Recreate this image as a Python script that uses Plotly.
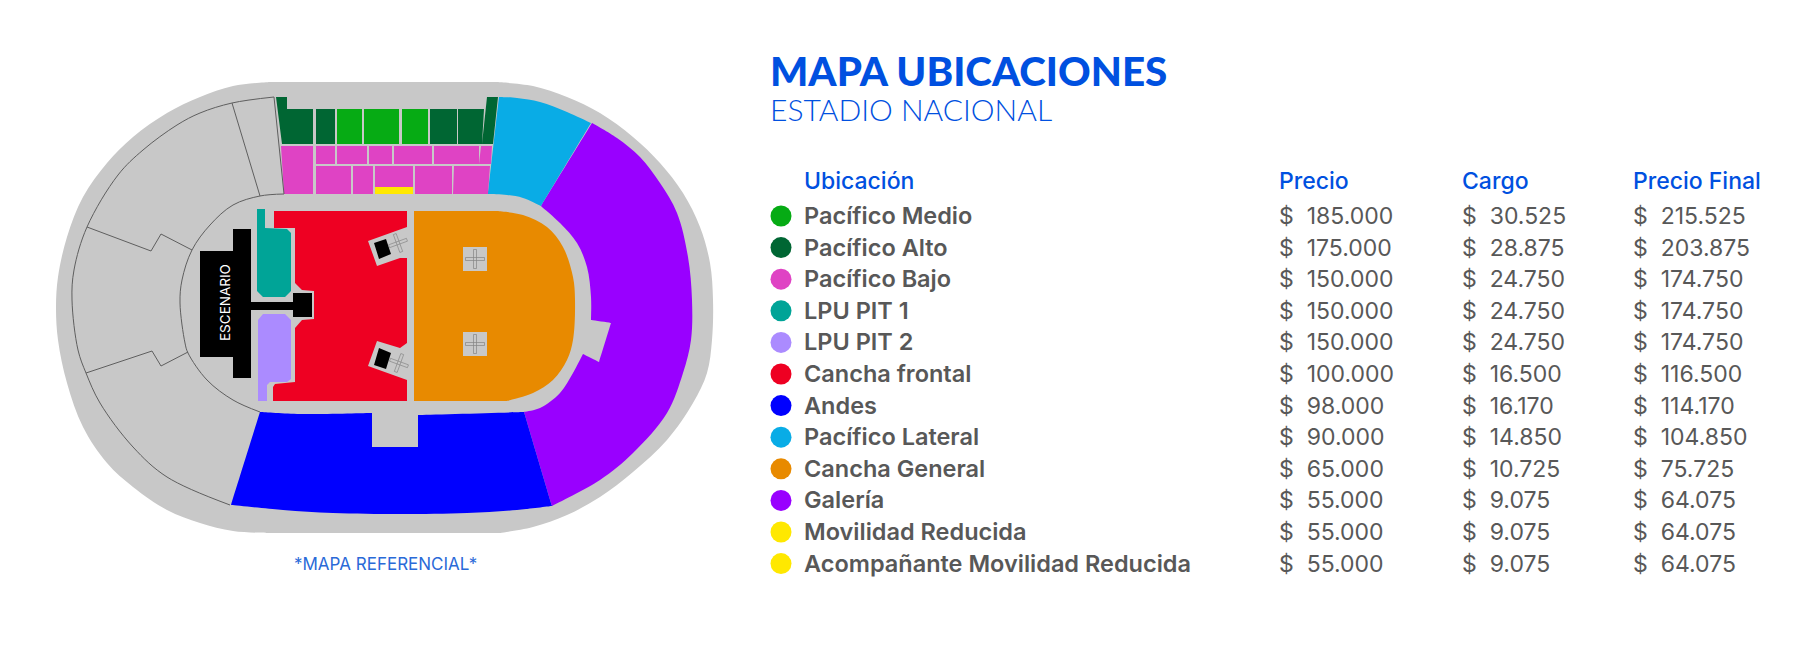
import math

import plotly.graph_objects as go

# table contents
ubicaciones = ["Pacífico Medio", "Pacífico Alto", "Pacífico Bajo", "LPU PIT 1", "LPU PIT 2", "Cancha frontal",
               "Andes", "Pacífico Lateral", "Cancha General", "Galería", "Movilidad Reducida",
               "Acompañante Movilidad Reducida"]
precio = [185000, 175000, 150000, 150000, 150000, 100000, 98000, 90000, 65000, 55000, 55000, 55000]
cargo = [30525, 28875, 24750, 24750, 24750, 16500, 16170, 14850, 10725, 9075, 9075, 9075]
precio_final = [215525, 203875, 174750, 174750, 174750, 116500, 114170, 104850, 75725, 64075, 64075, 64075]
colores = ["#06ab14", "#006633", "#df43c4", "#00a497", "#ab8bff", "#ee0022",
           "#0000ff", "#09ace6", "#e88a00", "#9900ff", "#ffe800", "#ffe800"]
encabezados = ["Ubicación", "Precio", "Cargo", "Precio Final"]

GRIS = "#c8c8c8"
AZUL = "#0050e0"
TEXTO = "#585858"

# map outlines in image pixels
contorno = [(270, 82), (233, 86), (200, 97), (167, 113), (133, 137), (107, 163), (83, 197), (67, 237), (58, 277),
            (56, 307), (58, 340), (67, 383), (83, 427), (107, 463), (133, 487), (167, 510), (200, 523), (233, 531),
            (267, 533), (500, 533), (533, 527), (567, 515), (600, 497), (633, 472), (667, 440), (693, 403),
            (707, 373), (712, 340), (713, 300), (710, 263), (700, 227), (683, 193), (660, 163), (633, 137),
            (600, 113), (567, 97), (533, 86), (497, 82)]
contorno_esq = [(270, 82), (267, 533), (500, 533), (497, 82)]
galeria = [(592, 123), (617, 138), (640, 157), (660, 183), (677, 213), (688, 257), (692, 300), (691, 340), (683, 373),
           (667, 413), (633, 453), (600, 480), (552, 506), (524, 412), (540, 408), (560, 393), (573, 373), (583, 354),
           (599, 362), (611, 323), (591, 320), (591, 297), (587, 267), (577, 243), (560, 223), (541, 206)]
galeria_esq = [(592, 123), (552, 506), (524, 412), (583, 354), (599, 362), (611, 323), (591, 320), (541, 206)]
lateral = [(499, 97), (517, 98), (540, 102), (567, 112), (591, 123), (541, 206), (523, 198), (507, 195), (488, 194)]
lateral_esq = [(499, 97), (591, 123), (541, 206), (488, 194)]
andes = [(260, 412), (300, 414), (372, 413), (372, 447), (418, 447), (418, 415), (524, 412), (552, 506), (517, 510),
         (467, 513), (400, 514), (333, 513), (283, 510), (231, 505)]
andes_esq = [(260, 412), (372, 413), (372, 447), (418, 447), (418, 415), (524, 412), (552, 506), (231, 505)]
general = [(414, 211), (497, 211), (523, 215), (547, 227), (563, 247), (573, 277), (575, 300), (573, 340), (567, 360),
           (553, 380), (533, 393), (507, 401), (414, 401)]
general_esq = [(414, 211), (497, 211), (507, 401), (414, 401)]
frontal = [(274, 211), (407, 211), (407, 401), (273, 401), (273, 387), (275, 384), (295, 382), (295, 328), (302, 320),
           (314, 319), (314, 291), (302, 290), (295, 283), (295, 228), (274, 228)]
pit_1 = [(257, 209), (265, 209), (265, 228), (287, 229), (291, 233), (291, 291), (285, 297), (263, 297), (257, 291)]
pit_2 = [(263, 314), (285, 314), (291, 320), (291, 379), (287, 382), (270, 382), (267, 385), (267, 401), (258, 401),
         (258, 320)]
escenario = [(233, 229), (251, 229), (251, 302), (293, 302), (293, 293), (312, 293), (312, 317), (293, 317), (293, 310),
             (251, 310), (251, 378), (233, 378), (233, 357), (200, 357), (200, 251), (233, 251)]
torre_1 = [(368, 241), (407, 227), (413, 227), (413, 258), (400, 258), (377, 266)]
torre_2 = [(377, 341), (400, 348), (407, 343), (413, 343), (413, 382), (407, 380), (368, 366)]
consola_1 = [(374, 243), (386, 239), (391, 254), (379, 259)]
consola_2 = [(379, 348), (391, 353), (386, 369), (374, 365)]

medio_bloques = [[(337, 109), (362, 109), (362, 144), (337, 144)],
                 [(364, 109), (399, 109), (399, 144), (364, 144)],
                 [(402, 109), (428, 109), (428, 144), (402, 144)]]
alto_bloques = [[(276, 97), (287, 97), (287, 109), (313, 109), (313, 144), (282, 144)],
                [(316, 109), (335, 109), (335, 144), (316, 144)],
                [(430, 109), (457, 109), (457, 144), (430, 144)],
                [(458, 109), (484, 109), (482, 144), (458, 144)],
                [(487, 97), (498, 97), (493, 144), (482, 144)]]
bajo_bloques = [[(281, 146), (313, 146), (313, 194), (284, 194)],
                [(316, 146), (335, 146), (335, 164), (316, 164)],
                [(337, 146), (367, 146), (367, 164), (337, 164)],
                [(369, 146), (392, 146), (392, 164), (369, 164)],
                [(394, 146), (432, 146), (432, 164), (394, 164)],
                [(434, 146), (479, 146), (479, 164), (434, 164)],
                [(481, 146), (492, 146), (491, 164), (479, 164)],
                [(316, 166), (351, 166), (351, 194), (316, 194)],
                [(353, 166), (373, 166), (373, 194), (353, 194)],
                [(375, 166), (413, 166), (413, 187), (375, 187)],
                [(415, 166), (452, 166), (452, 194), (415, 194)],
                [(454, 166), (490, 166), (488, 194), (453, 194)]]
movilidad = [(375, 187), (413, 187), (413, 194), (375, 194)]

linea_exterior = [(274, 97), (232, 103), (200, 113), (177, 125), (143, 150), (118, 175), (87, 227), (74, 270), (72, 300),
                  (78, 350), (86, 373), (100, 403), (133, 447), (167, 477), (230, 505)]
linea_interior = [(284, 194), (260, 196), (233, 205), (210, 225), (192, 250), (182, 280), (180, 303), (185, 343),
                  (188, 353), (207, 380), (233, 400), (260, 412)]
divisiones = [[(274, 97), (284, 194)],
              [(232, 103), (260, 196)],
              [(87, 227), (151, 251), (161, 234), (192, 250)],
              [(86, 373), (152, 351), (161, 366), (188, 352)]]

cuadros = [[(463, 247), (487, 247), (487, 271), (463, 271)],
           [(463, 332), (487, 332), (487, 356), (463, 356)]]
# cross centre x, centre y, angle
cruces = [(475, 259, 0), (475, 344, 0), (398, 243, -20), (399, 363, 20)]

fila_y0 = 216
fila_paso = 31.6
col_x = [804, 1279, 1462, 1633]
ajuste_texto = 0.07  # text sits a little under the row centre


def afilar(puntos, esquinas):
    # extra points right next to each corner keep it sharp under the spline
    anillo = []
    n = len(puntos)
    for i, p in enumerate(puntos):
        if p in esquinas:
            for q in (puntos[i - 1], p, puntos[(i + 1) % n]):
                if q == p:
                    anillo.append(p)
                else:
                    d = math.dist(p, q)
                    anillo.append((p[0] + (q[0] - p[0]) * 0.6 / d, p[1] + (q[1] - p[1]) * 0.6 / d))
        else:
            anillo.append(p)
    return anillo


def juntar(bloques):
    xs, ys = [], []
    for b in bloques:
        for p in b + [b[0]]:
            xs.append(p[0])
            ys.append(p[1])
        xs.append(None)
        ys.append(None)
    return xs, ys


def area(fig, bloques, color, curva=False):
    xs, ys = juntar(bloques)
    linea_traza = dict(width=0, shape="spline", smoothing=1) if curva else dict(width=0)
    fig.add_trace(go.Scatter(x=xs, y=ys, mode="lines", fill="toself", fillcolor=color, line=linea_traza,
                             hoverinfo="skip"))


def linea(fig, puntos, ancho=1.0, color="#5f5f5f", curva=False):
    fig.add_trace(go.Scatter(x=[p[0] for p in puntos], y=[p[1] for p in puntos], mode="lines",
                             line=dict(color=color, width=ancho, shape="spline" if curva else "linear"),
                             hoverinfo="skip"))


def cruz(cx, cy, ang, largo=9.5, g=1.5):
    a = math.radians(ang)
    salida = []
    for forma in ([(-g, -largo), (g, -largo), (g, largo), (-g, largo), (-g, -largo)],
                  [(-largo, -g), (largo, -g), (largo, g), (-largo, g), (-largo, -g)]):
        salida.append([(cx + u * math.cos(a) - v * math.sin(a), cy + u * math.sin(a) + v * math.cos(a))
                       for u, v in forma])
    return salida


def texto(fig, x, y, t, size, color, weight=400, font="Inter", yaxis="y"):
    fig.add_trace(go.Scatter(x=x, y=y, text=t, mode="text", textposition="middle right", yaxis=yaxis,
                             textfont=dict(family=font, size=size, color=color, weight=weight), hoverinfo="skip"))


def dinero(v):
    return "$  " + f"{v:,}".replace(",", ".")


fig = go.Figure()

# map
area(fig, [afilar(contorno, contorno_esq)], GRIS, True)
area(fig, [afilar(galeria, galeria_esq)], colores[9], True)
area(fig, [afilar(lateral, lateral_esq)], colores[7], True)
area(fig, [afilar(andes, andes_esq)], colores[6], True)
area(fig, [afilar(general, general_esq)], colores[8], True)
area(fig, [frontal], colores[5])
area(fig, [pit_1], colores[3])
area(fig, [pit_2], colores[4])
area(fig, medio_bloques, colores[0])
area(fig, alto_bloques, colores[1])
area(fig, bajo_bloques, colores[2])
area(fig, [movilidad], colores[10])
area(fig, [escenario], "#000000")
area(fig, [torre_1, torre_2] + cuadros, GRIS)
area(fig, [consola_1, consola_2], "#000000")
linea(fig, linea_exterior, curva=True)
linea(fig, linea_interior, curva=True)
for d in divisiones:
    linea(fig, d)
for c in cruces:
    for brazo in cruz(*c):
        linea(fig, brazo, 0.7, "#858585")

fig.add_annotation(x=225, y=303, text="ESCENARIO", textangle=-90, showarrow=False,
                   font=dict(family="Inter", size=13.5, color="#ffffff"))
texto(fig, [294], [566], ["*MAPA REFERENCIAL*"], 17, "#2a6ad8")

# headings
texto(fig, [770], [75.5], ["MAPA UBICACIONES"], 40.3, AZUL, 900, font="Lato")
texto(fig, [770], [113.5], ["ESTADIO NACIONAL"], 30, AZUL, 300, font="Lato")

# table
filas = list(range(len(ubicaciones)))
filas_texto = [f + ajuste_texto for f in filas]
fig.add_trace(go.Scatter(x=[781] * len(filas), y=filas, yaxis="y2", mode="markers",
                         marker=dict(size=21, color=colores, line=dict(width=0)), hoverinfo="skip"))
texto(fig, [col_x[0]] * len(filas), filas_texto, ubicaciones, 23.5, TEXTO, 600, yaxis="y2")
texto(fig, [col_x[1]] * len(filas), filas_texto, [dinero(v) for v in precio], 23, TEXTO, yaxis="y2")
texto(fig, [col_x[2]] * len(filas), filas_texto, [dinero(v) for v in cargo], 23, TEXTO, yaxis="y2")
texto(fig, [col_x[3]] * len(filas), filas_texto, [dinero(v) for v in precio_final], 23, TEXTO, yaxis="y2")
texto(fig, col_x, [-1.05] * 4, encabezados, 23, AZUL, 500, yaxis="y2")

fig.update_layout(
    width=1815, height=671, margin=dict(l=0, r=0, t=0, b=0),
    paper_bgcolor="#ffffff", plot_bgcolor="#ffffff", showlegend=False,
    xaxis=dict(range=[0, 1815], visible=False, fixedrange=True),
    yaxis=dict(range=[671, 0], visible=False, fixedrange=True),
    yaxis2=dict(range=[(671 - fila_y0) / fila_paso, -fila_y0 / fila_paso], overlaying="y", visible=False,
                fixedrange=True),
)

fig.write_html("out.html", config={"displayModeBar": False},
               post_script="document.body.style.margin='0';")
